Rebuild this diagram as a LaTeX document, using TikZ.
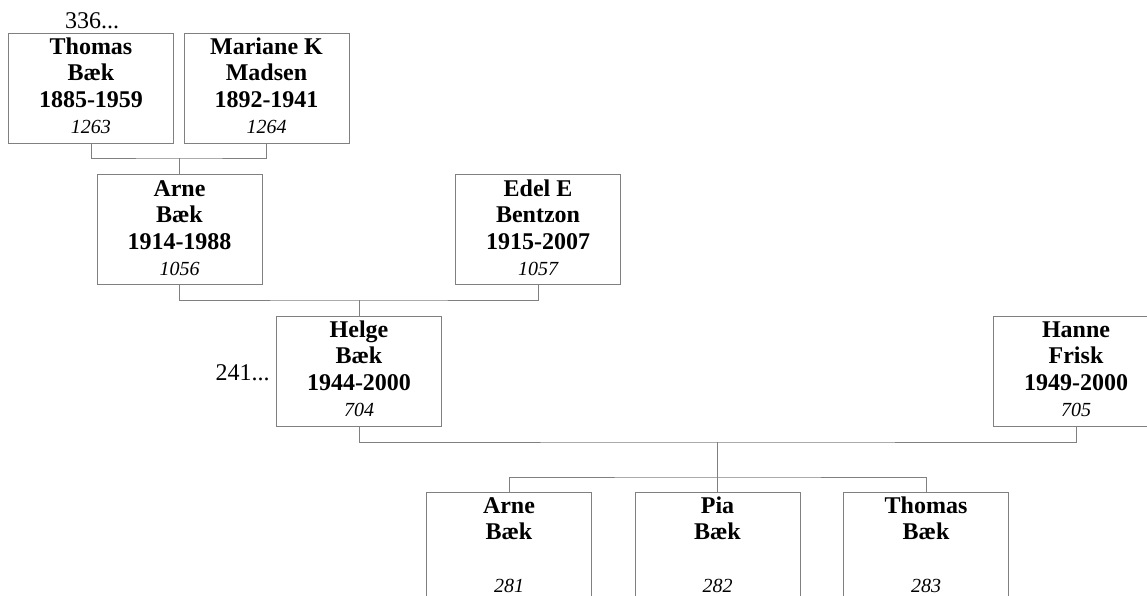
\documentclass[tikz,border=0pt]{standalone}
\usepackage{fontspec}
\setmainfont{Liberation Serif}
\definecolor{linegray}{RGB}{128,128,128}
\newcommand{\itnum}[1]{{\fontsize{15}{19.8}\selectfont\mdseries\itshape #1}}
\newcommand{\fs}{\rule{0pt}{12.5pt}}
\begin{document}
\begin{tikzpicture}[x=0.75pt,y=-0.75pt,
  box/.style={draw=linegray, line width=0.75pt, minimum width=123.75pt, minimum height=82.5pt, inner sep=0pt},
  txt/.style={align=center, inner sep=0pt, anchor=north, font=\fontsize{18}{19.8}\selectfont\bfseries},
  lab/.style={inner sep=0pt, font=\fontsize{18}{19.8}\selectfont},
  conn/.style={draw=linegray, line width=0.75pt}]
\useasboundingbox (0,0) rectangle (1147,596);
% boxes
\node[box] (t1) at (91,88) {};
\node[box] (mk) at (266.5,88) {};
\node[box] (ab) at (179.5,229.5) {};
\node[box] (eb) at (538,229.5) {};
\node[box] (hb) at (359,371) {};
\node[box] (hf) at (1076,371) {};
\node[box] (c1) at (509,547) {};
\node[box] (c2) at (717.5,547) {};
\node[box] (c3) at (926,547) {};
% texts
\node[txt] (t1t) at (91,37.3) {\fs Thomas\\Bæk\\1885-1959\\\itnum{1263}};
\node[txt] (mkt) at (266.5,37.3) {\fs Mariane K\\Madsen\\1892-1941\\\itnum{1264}};
\node[txt] (abt) at (179.5,179.3) {\fs Arne\\Bæk\\1914-1988\\\itnum{1056}};
\node[txt] (ebt) at (538,179.3) {\fs Edel E\\Bentzon\\1915-2007\\\itnum{1057}};
\node[txt] (hbt) at (359,320.3) {\fs Helge\\Bæk\\1944-2000\\\itnum{704}};
\node[txt] (hft) at (1076,320.3) {\fs Hanne\\Frisk\\1949-2000\\\itnum{705}};
\node[txt] (c1t) at (509,496.3) {\fs Arne\\Bæk\\\mbox{}\\\itnum{281}};
\node[txt] (c2t) at (717.5,496.3) {\fs Pia\\Bæk\\\mbox{}\\\itnum{282}};
\node[txt] (c3t) at (926,496.3) {\fs Thomas\\Bæk\\\mbox{}\\\itnum{283}};
% side labels
\node[lab, anchor=base] (l336) at (92,28) {336...};
\node[lab, anchor=base east] (l241) at (270,380) {241...};
% junctions
\coordinate (j1) at (179.5,158);
\coordinate (j2) at (359,300);
\coordinate (j3) at (717.5,442);
\coordinate (j4) at (717.5,477);
% connectors
\draw[conn] (t1.south) |- (j1) -| (mk.south);
\draw[conn] (j1) -- (ab.north);
\draw[conn] (ab.south) |- (j2) -| (eb.south);
\draw[conn] (j2) -- (hb.north);
\draw[conn] (hb.south) |- (j3) -| (hf.south);
\draw[conn] (j3) -- (c2.north);
\draw[conn] (c1.north) |- (j4) -| (c3.north);
\end{tikzpicture}
\end{document}
